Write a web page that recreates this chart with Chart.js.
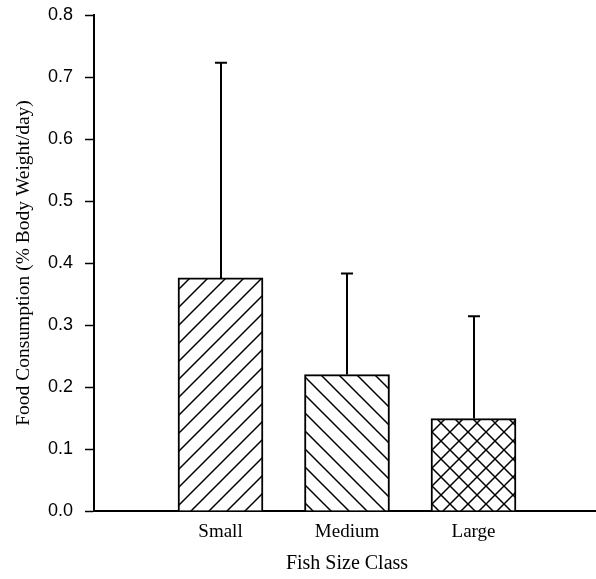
<!DOCTYPE html>
<html>
<head>
<meta charset="utf-8">
<script src="https://cdn.jsdelivr.net/npm/chart.js@4.4.0/dist/chart.umd.min.js"></script>
<style>
  html, body { margin: 0; padding: 0; background: #fff; overflow: hidden; width: 596px; height: 579px; }
  #wrap { width: 610px; height: 579px; }
</style>
</head>
<body>
<div id="wrap"><canvas id="chart" width="610" height="579"></canvas></div>
<script>
// data (empty slots keep the spacing of the original)
const categories = ['', 'Small', 'Medium', 'Large', ''];
const consumption = [null, 0.376, 0.220, 0.149, null];
const errorHigh = [null, 0.723, 0.383, 0.314, null];
const yTicks = [0, 0.1, 0.2, 0.3, 0.4, 0.5, 0.6, 0.7, 0.8];

// hatch fills
function hatch(kind, s) {
  const c = document.createElement('canvas');
  c.width = s; c.height = s;
  const g = c.getContext('2d');
  g.fillStyle = '#fff';
  g.fillRect(0, 0, s, s);
  g.strokeStyle = '#000';
  g.lineWidth = 1.5;
  g.beginPath();
  if (kind === 'fwd' || kind === 'cross') {
    g.moveTo(-2, s + 2); g.lineTo(s + 2, -2);
    g.moveTo(-2, 2); g.lineTo(2, -2);
    g.moveTo(s - 2, s + 2); g.lineTo(s + 2, s - 2);
  }
  if (kind === 'back' || kind === 'cross') {
    g.moveTo(-2, -2); g.lineTo(s + 2, s + 2);
    g.moveTo(s - 2, -2); g.lineTo(s + 2, 2);
    g.moveTo(-2, s - 2); g.lineTo(2, s + 2);
  }
  g.stroke();
  return g.createPattern(c, 'repeat');
}
const ctx = document.getElementById('chart').getContext('2d');
const fills = [null, hatch('fwd', 18), hatch('back', 18), hatch('cross', 18), null];

const errorBars = {
  id: 'errorBars',
  afterDatasetsDraw(chart) {
    const c = chart.ctx;
    const y = chart.scales.y;
    const meta = chart.getDatasetMeta(0);
    c.save();
    c.strokeStyle = '#000';
    c.lineWidth = 2;
    meta.data.forEach((bar, i) => {
      if (errorHigh[i] == null) return;
      const x = Math.round(bar.x);
      const top = y.getPixelForValue(errorHigh[i]);
      c.beginPath();
      c.moveTo(x, bar.y);
      c.lineTo(x, top);
      c.moveTo(x - 6, top);
      c.lineTo(x + 6, top);
      c.stroke();
    });
    c.restore();
  }
};

Chart.defaults.color = '#000';

new Chart(ctx, {
  type: 'bar',
  data: {
    labels: categories,
    datasets: [{
      data: consumption,
      backgroundColor: fills,
      borderColor: '#000',
      borderWidth: 2,
      barThickness: 85
    }]
  },
  plugins: [errorBars],
  options: {
    responsive: false,
    animation: false,
    layout: { padding: { top: 15, left: 0, right: 6, bottom: 0 } },
    plugins: { legend: { display: false }, tooltip: { enabled: false } },
    scales: {
      x: {
        offset: false,
        grid: { display: false, drawTicks: false },
        border: { color: '#000', width: 2 },
        ticks: {
          padding: 10,
          maxRotation: 0,
          autoSkip: false,
          font: { family: 'Liberation Serif', size: 19 }
        },
        title: {
          display: true,
          text: 'Fish Size Class',
          font: { family: 'Liberation Serif', size: 20 },
          padding: { top: 0, bottom: 3 }
        },
        afterFit(scale) { scale.height = 68; }
      },
      y: {
        min: 0,
        max: 0.8,
        afterBuildTicks(scale) { scale.ticks = yTicks.map(v => ({ value: v })); },
        grid: { drawOnChartArea: false, tickLength: 9, color: '#000', tickWidth: 1.5 },
        border: { color: '#000', width: 2 },
        ticks: {
          padding: 12,
          callback: v => Number(v).toFixed(1),
          font: { family: 'Liberation Sans', size: 18 }
        },
        title: {
          display: true,
          text: 'Food Consumption (% Body Weight/day)',
          font: { family: 'Liberation Serif', size: 19.5 },
          padding: { top: 12, bottom: 0 }
        },
        afterFit(scale) {
          scale.width = 94;
          scale.paddingTop = 0;
          scale.paddingBottom = 0;
        }
      }
    }
  }
});
</script>
</body>
</html>
